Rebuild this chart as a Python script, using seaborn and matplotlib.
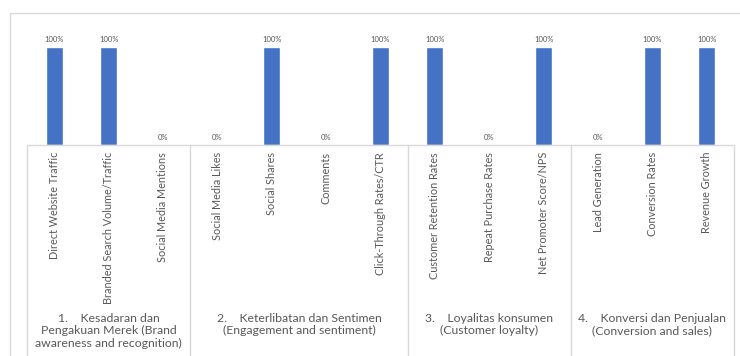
import matplotlib
matplotlib.use("Agg")
import matplotlib.pyplot as plt
import matplotlib.transforms as mtransforms
from matplotlib.patches import Rectangle
import seaborn as sns
import pandas as pd

categories = [
    "Direct Website Traffic", "Branded Search Volume/Traffic", "Social Media Mentions",
    "Social Media Likes", "Social Shares", "Comments", "Click-Through Rates/CTR",
    "Customer Retention Rates", "Repeat Purchase Rates", "Net Promoter Score/NPS",
    "Lead Generation", "Conversion Rates", "Revenue Growth",
]
values = [1, 1, 0, 0, 1, 0, 1, 1, 0, 1, 0, 1, 1]
groups = [
    "1.    Kesadaran dan\nPengakuan Merek (Brand\nawareness and recognition)",
    "2.    Keterlibatan dan Sentimen\n(Engagement and sentiment)",
    "3.    Loyalitas konsumen\n(Customer loyalty)",
    "4.    Konversi dan Penjualan\n(Conversion and sales)",
]
group_sizes = [3, 4, 3, 3]

sns.set_theme(style="white")
plt.rcParams['font.family'] = ['Lato', 'DejaVu Sans']

W, H = 740, 356
fig = plt.figure(figsize=(W / 100, H / 100), dpi=100)
ax_left, ax_right = 27 / W, 734 / W
ax_bottom, ax_top = 1 - 145 / H, 1 - 25 / H
ax = fig.add_axes([ax_left, ax_bottom, ax_right - ax_left, ax_top - ax_bottom])

df = pd.DataFrame({"cat": categories, "val": values})
sns.barplot(data=df, x="cat", y="val", color="#4472C4", saturation=1, width=0.31, ax=ax)
ax.set_xlim(-0.5, len(categories) - 0.5)
ax.set_ylim(0, 120 / 98)
ax.set_xlabel("")
ax.set_ylabel("")
ax.set_xticks([])
ax.set_yticks([])
for s in ax.spines.values():
    s.set_visible(False)

ax.bar_label(ax.containers[0], labels=[f"{v:.0%}" for v in values], padding=3,
             fontsize=5.5, color="#595959")

gray = "#595959"
linec = "#d9d9d9"
trans = mtransforms.blended_transform_factory(ax.transData, fig.transFigure)
base_y = ax_bottom

ax.plot([-0.5, len(categories) - 0.5], [base_y, base_y], transform=trans,
        color=linec, lw=1, clip_on=False)
pos = -0.5
seps = [pos]
for n in group_sizes:
    pos += n
    seps.append(pos)
for s in seps:
    ax.plot([s, s], [base_y, 0], transform=trans, color=linec, lw=1, clip_on=False)

for i, c in enumerate(categories):
    ax.text(i, 1 - 152 / H, c, transform=trans, rotation=90, ha="center", va="top",
            fontsize=7.8, color=gray)

for gi, g in enumerate(groups):
    center = (seps[gi] + seps[gi + 1]) / 2
    ax.text(center, 1 - 313 / H, g, transform=trans, ha="center", va="top",
            fontsize=8.8, color=gray, linespacing=1.15)

fig.patches.append(Rectangle((10 / W, -0.02), 1.0, 1 - 13 / H + 0.02,
                             transform=fig.transFigure, fill=False,
                             edgecolor=linec, lw=1))

fig.savefig("out.png", dpi=100)
